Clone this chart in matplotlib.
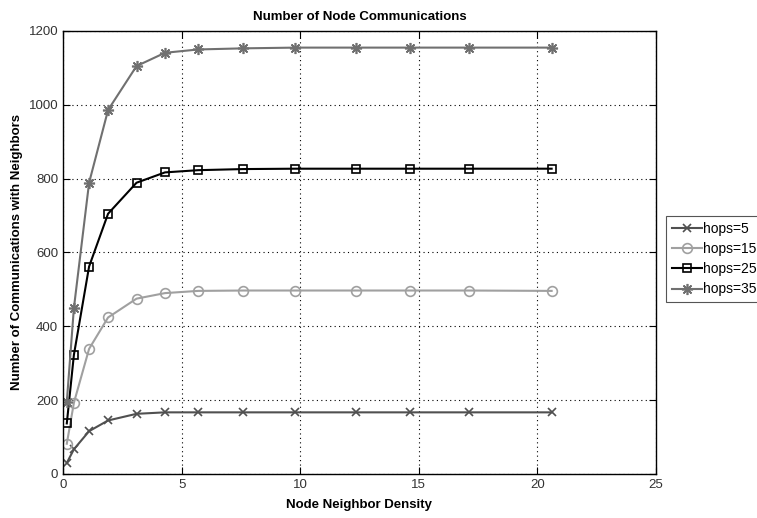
import matplotlib
matplotlib.use("Agg")
import matplotlib.pyplot as plt

plt.rcParams['font.family'] = ['Liberation Sans', 'DejaVu Sans']

density = [0.16, 0.46, 1.1, 1.9, 3.1, 4.3, 5.7, 7.6, 9.8, 12.35, 14.65, 17.1, 20.6]
hops5 = [30, 67, 116, 145, 163, 167, 167, 167, 167, 167, 167, 167, 167]
hops15 = [82, 193, 339, 424, 475, 490, 496, 497, 497, 497, 497, 497, 496]
hops25 = [137, 323, 562, 705, 789, 817, 823, 826, 827, 827, 827, 827, 827]
hops35 = [195, 450, 789, 986, 1105, 1141, 1150, 1153, 1155, 1155, 1155, 1155, 1155]
labels = ["hops=5", "hops=15", "hops=25", "hops=35"]
xticks = [0, 5, 10, 15, 20, 25]
yticks = [0, 200, 400, 600, 800, 1000, 1200]

fig = plt.figure(figsize=(7.57, 5.18), dpi=100)
ax = fig.add_axes([63/757, (518-474)/518, (656-63)/757, (474-31)/518])

ax.plot(density, hops5, color='#505050', marker='x', markersize=6, lw=1.5,
        mew=1.2, label=labels[0])
ax.plot(density, hops15, color='#a0a0a0', marker='o', markersize=7, lw=1.5,
        mfc='none', mew=1.2, label=labels[1])
ax.plot(density, hops25, color='#000000', marker='s', markersize=6, lw=1.5,
        mfc='none', mew=1.2, label=labels[2])
ax.plot(density, hops35, color='#707070', marker=(8, 2, 0), markersize=8, lw=1.5,
        mew=1.2, label=labels[3])

ax.set_xlim(0, 25)
ax.set_ylim(0, 1200)
ax.set_xticks(xticks)
ax.set_yticks(yticks)
ax.grid(True, linestyle=(0, (1, 3)), color='black', linewidth=0.8)
ax.tick_params(direction='in', top=True, right=True, labelsize=9.5, length=5,
               labelcolor='#333333')
for s in ax.spines.values():
    s.set_linewidth(1.0)

ax.set_title("Number of Node Communications", fontsize=9.5, fontweight='bold', pad=8)
ax.set_xlabel("Node Neighbor Density", fontsize=9.5, fontweight='bold', labelpad=6)
ax.set_ylabel("Number of Communications with Neighbors", fontsize=9.5,
              fontweight='bold', labelpad=4)

leg = ax.legend(loc='center left', bbox_to_anchor=(666/757, 0.5),
                bbox_transform=fig.transFigure, fontsize=10, fancybox=False,
                edgecolor='#555555', framealpha=1, handlelength=2.2,
                handletextpad=0.1, borderpad=0.4, labelspacing=0.45,
                borderaxespad=0)
leg.get_frame().set_linewidth(0.8)

fig.savefig("out.png", dpi=100)
